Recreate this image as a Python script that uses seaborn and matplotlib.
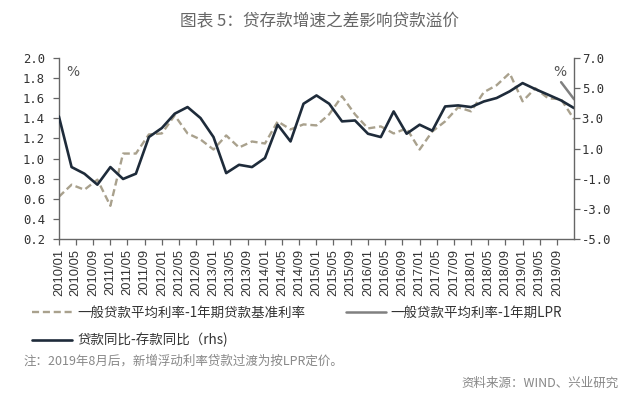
import numpy as np
import pandas as pd
import seaborn as sns
import matplotlib.pyplot as plt
from matplotlib.lines import Line2D

# 季度数据，2010Q1 起
dates = pd.date_range("2010-01-01", periods=41, freq="QS")

# 一般贷款平均利率-1年期贷款基准利率（左轴）
spread_base = [0.62, 0.74, 0.69, 0.79, 0.53, 1.05, 1.05, 1.24, 1.25, 1.43,
               1.25, 1.19, 1.09, 1.23, 1.11, 1.17, 1.15, 1.37, 1.29, 1.34,
               1.33, 1.44, 1.62, 1.44, 1.30, 1.32, 1.25, 1.30, 1.09, 1.27,
               1.37, 1.51, 1.47, 1.66, 1.73, 1.85, 1.57, 1.70, 1.60, 1.59,
               1.39]
# 一般贷款平均利率-1年期LPR（左轴，仅最后两期）
spread_lpr = [np.nan] * 39 + [1.76, 1.59]
# 贷款同比-存款同比（右轴）
loan_dep = [3.13, -0.23, -0.67, -1.40, -0.23, -1.02, -0.67, 1.76, 2.36, 3.31,
            3.75, 3.02, 1.76, -0.63, -0.08, -0.23, 0.37, 2.58, 1.47, 3.97,
            4.52, 3.97, 2.80, 2.86, 1.98, 1.76, 3.46, 1.98, 2.58, 2.18,
            3.79, 3.86, 3.75, 4.12, 4.35, 4.79, 5.34, 4.94, 4.57, 4.19,
            3.68]

tick_dates = pd.date_range("2010-01-01", "2019-09-01", freq="4MS")
tick_labels = [d.strftime("%Y/%m") for d in tick_dates]

lbl_base = "一般贷款平均利率-1年期贷款基准利率"
lbl_lpr = "一般贷款平均利率-1年期LPR"
lbl_ld = "贷款同比-存款同比（rhs)"

df = pd.DataFrame({"date": dates, "base": spread_base,
                   "lpr": spread_lpr, "ld": loan_dep})

sns.set_style("ticks")
plt.rcParams["font.family"] = ["Noto Sans CJK SC", "DejaVu Sans"]

c_dash = "#a9a18d"
c_navy = "#1e2b3a"
c_gray = "#808080"
c_axis = "#666666"

fig = plt.figure(figsize=(6.4, 3.95), dpi=100)
ax = fig.add_axes([0.092, 0.395, 0.805, 0.458])
ax2 = ax.twinx()

sns.lineplot(data=df, x="date", y="base", ax=ax, color=c_dash, lw=1.7,
             dashes=False, linestyle=(0, (3, 1.6)))
sns.lineplot(data=df, x="date", y="lpr", ax=ax, color=c_gray, lw=1.8)
sns.lineplot(data=df, x="date", y="ld", ax=ax2, color=c_navy, lw=1.9)

ax.set_xlim(pd.Timestamp("2010-01-01"), pd.Timestamp("2020-01-01"))
ax.set_ylim(0.2, 2.0)
ax2.set_ylim(-5, 7)
ax.set_yticks(np.arange(0.2, 2.01, 0.2))
ax2.set_yticks(np.arange(-5, 7.01, 2))
ax.set_yticklabels([f"{v:.1f}" for v in np.arange(0.2, 2.01, 0.2)],
                   family="DejaVu Sans Mono", fontsize=8.8, color="#333333")
ax2.set_yticklabels([f"{v:.1f}" for v in np.arange(-5, 7.01, 2)],
                    family="DejaVu Sans Mono", fontsize=8.8, color="#333333")
ax.set_xticks(tick_dates)
ax.set_xticklabels(tick_labels, rotation=90, family="Liberation Sans",
                   fontsize=9.3, color="#333333")

for a in (ax, ax2):
    a.set_xlabel("")
    a.set_ylabel("")
    a.spines["top"].set_visible(False)
    for s in ("left", "right", "bottom"):
        a.spines[s].set_color(c_axis)
        a.spines[s].set_linewidth(1.0)
    a.tick_params(colors=c_axis, length=4, width=0.9)
ax.spines["right"].set_visible(False)
ax2.spines["left"].set_visible(False)
ax2.spines["bottom"].set_visible(False)
ax.tick_params(axis="y", pad=6, labelcolor="#333333")
ax.tick_params(axis="x", pad=3, labelcolor="#333333")
ax2.tick_params(axis="y", pad=1.5, labelcolor="#333333")

ax.text(0.015, 0.96, "%", transform=ax.transAxes, ha="left", va="top",
        fontsize=10, color="#555555", family="DejaVu Sans")
ax.text(0.985, 0.96, "%", transform=ax.transAxes, ha="right", va="top",
        fontsize=10, color="#555555", family="DejaVu Sans")

fig.text(0.5, 0.944, "图表 5：贷存款增速之差影响贷款溢价", ha="center",
         va="center", fontsize=12, color="#666666")

handles = [Line2D([], [], color=c_dash, lw=1.7, linestyle=(0, (3, 1.6))),
           Line2D([], [], color=c_navy, lw=1.9),
           Line2D([], [], color=c_gray, lw=1.8)]
fig.legend(handles, [lbl_base, lbl_ld, lbl_lpr], ncol=2, loc="upper left",
           bbox_to_anchor=(0.05, 0.225), frameon=False, fontsize=9.7,
           handlelength=3.0, handletextpad=0.35, columnspacing=3.0,
           labelspacing=0.95, labelcolor="#333333", borderpad=0, borderaxespad=0)

fig.text(0.036, 0.086, "注：2019年8月后，新增浮动利率贷款过渡为按LPR定价。",
         ha="left", va="center", fontsize=9, color="#888888")
fig.text(0.966, 0.03, "资料来源：WIND、兴业研究", ha="right", va="center",
         fontsize=9, color="#888888")

fig.savefig("out.png", dpi=100, facecolor="white")
